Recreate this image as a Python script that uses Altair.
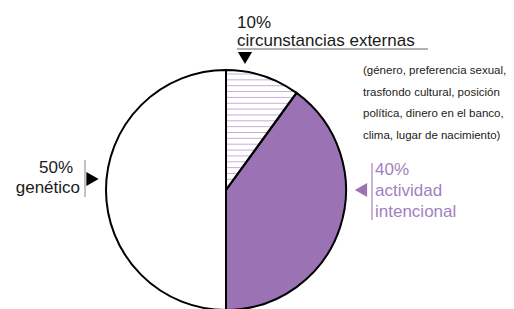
import math
import altair as alt
import pandas as pd

# ---- data ----
categories = ["circunstancias externas", "actividad intencional", "genético"]
values = [10, 40, 50]
fills = ["transparent", "#9B72B3", "white"]

pct_labels = ["10%", "40%", "50%"]
label_ext = "circunstancias externas"
label_act = ["actividad", "intencional"]
label_gen = "genético"
note_lines = [
    "(género, preferencia sexual,",
    "trasfondo cultural, posición",
    "política, dinero en el banco,",
    "clima, lugar de nacimiento)",
]

# ---- layout (chart pixel coords; page = chart + 8) ----
W, H = 498, 301
CX, CY, R = 218, 182, 120
FONT = "Liberation Sans"
PURPLE = "#9B72B3"
PURPLE_TXT = "#A27FC0"
HATCH = "#C4AED8"

df = pd.DataFrame({"cat": categories, "value": values, "fill": fills,
                   "idx": list(range(len(values)))})

xs = alt.Scale(domain=[0, W], range=[0, W])
ys = alt.Scale(domain=[0, H], range=[0, H])

# hatch (decoration) lines in the top-right quadrant, masked afterwards
hatch_step = 5.85
n_h = int((R - 4) / hatch_step) + 1
hatch = pd.DataFrame({
    "y": [CY - R + 4 + k * hatch_step for k in range(n_h)],
    "x0": [CX] * n_h,
    "x1": [CX + R] * n_h,
})
hatch_layer = alt.Chart(hatch).mark_rule(color=HATCH, strokeWidth=1).encode(
    x=alt.X("x0:Q", scale=xs, axis=None),
    x2="x1:Q",
    y=alt.Y("y:Q", scale=ys, axis=None),
)

pie_base = alt.Chart(df).encode(
    theta=alt.Theta("value:Q", stack=True),
    order=alt.Order("idx:Q"),
    x=alt.value(CX), y=alt.value(CY),
)
pie_fill = pie_base.mark_arc(radius=R, strokeWidth=0).encode(
    color=alt.Color("fill:N", scale=None, legend=None))

dummy = pd.DataFrame({"a": [0]})
mask = alt.Chart(dummy).mark_arc(
    radius=R * 1.6, radius2=R + 0.8, theta=0, theta2=math.pi / 2,
    fill="white", strokeWidth=0,
).encode(x=alt.value(CX), y=alt.value(CY))

pie_line = pie_base.mark_arc(radius=R, fill="transparent", stroke="black",
                             strokeWidth=2, strokeJoin="miter")


def txt(s, x, y, size=17, color="#1a1a1a", align="left"):
    return alt.Chart(dummy).mark_text(
        text=s, font=FONT, fontSize=size, color=color, align=align,
        baseline="alphabetic",
    ).encode(x=alt.value(x), y=alt.value(y))


def rule(x, y, x2, y2, color, w=1):
    return alt.Chart(dummy).mark_rule(color=color, strokeWidth=w).encode(
        x=alt.value(x), y=alt.value(y), x2=alt.value(x2), y2=alt.value(y2))


def tri(shape, x, y, color, size=200):
    return alt.Chart(dummy).mark_point(
        shape=shape, filled=True, color=color, size=size, opacity=1,
        strokeWidth=0,
    ).encode(x=alt.value(x), y=alt.value(y))


layers = [hatch_layer, pie_fill, mask, pie_line]

# top annotation
layers += [
    txt(pct_labels[0], 229, 20),
    txt(label_ext, 229, 38),
    rule(229, 41, 420, 41, "#666666", 1),
    tri("triangle-down", 237, 50, "black"),
]
for i, line in enumerate(note_lines):
    layers.append(txt(line, 355, 66 + i * 21.6, size=11.5, color="#222222"))

# left annotation
layers += [
    txt(pct_labels[2], 65, 165, align="right"),
    txt(label_gen, 72, 185, align="right"),
    rule(77, 152, 77, 189, "#999999", 1.2),
    tri("triangle-right", 84.5, 171, "black"),
]

# right annotation
layers += [
    rule(364, 155, 364, 212, "#B89BD0", 1.5),
    tri("triangle-left", 353, 182, PURPLE),
    txt(pct_labels[1], 367, 167, color=PURPLE_TXT),
    txt(label_act[0], 367, 188, color=PURPLE_TXT),
    txt(label_act[1], 367, 209, color=PURPLE_TXT),
]

chart = alt.layer(*layers).properties(
    width=W, height=H, padding=0,
    autosize=alt.AutoSizeParams(type="none"),
).configure_view(stroke=None)

chart.save("out.html", embed_options={"renderer": "svg", "actions": False})
